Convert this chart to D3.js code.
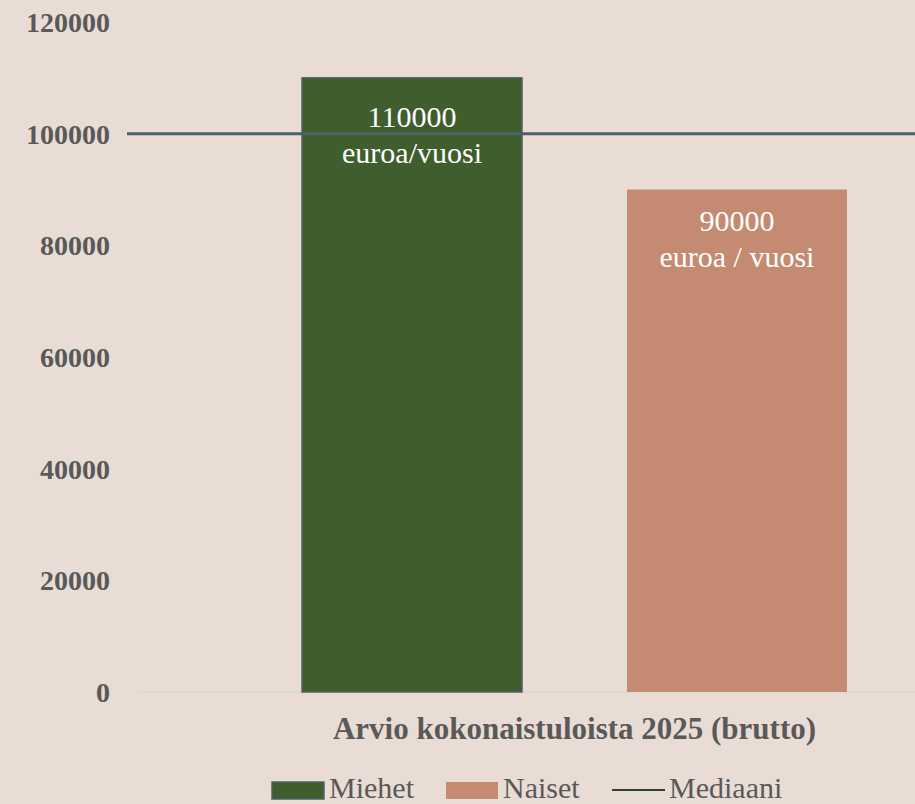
<!DOCTYPE html>
<head>
    <meta charset="utf-8">
    <style>
      body {
          margin: 0;
          background: #e8dcd4;
          font-family: 'Liberation Serif', 'Times New Roman', serif;
      }
      svg { display: block; }
      .tick text { fill: #595959; font-weight: bold; font-size: 28px; font-family: 'Liberation Serif', serif; }
      .lbl { fill: #ffffff; font-size: 30px; }
      .title { fill: #595959; font-weight: bold; font-size: 31px; }
      .legend text { fill: #595959; font-size: 30px; }
  </style>
</head>
<body>
<svg id="chart" width="915" height="804"></svg>
<script src="https://cdn.jsdelivr.net/npm/d3@7"></script>
<script>
  var categories = ["Arvio kokonaistuloista 2025 (brutto)"];
  var series = ["Miehet", "Naiset"];
  var values = [110000, 90000];
  var labels = [["110000", "euroa/vuosi"], ["90000", "euroa / vuosi"]];
  var median = 100000;
  var yTicks = [0, 20000, 40000, 60000, 80000, 100000, 120000];

  var colors = { Miehet: "#405e2d", Naiset: "#c58b72" };

  var svg = d3.select("#chart");
  var mLeft = 138, mRight = 1011, mTop = 22, mBottom = 692;

  var y = d3.scaleLinear().domain([0, 120000]).range([mBottom, mTop]);
  var x0 = d3.scaleBand().domain(categories).range([mLeft, mRight]).paddingInner(0).paddingOuter(0.301);
  var x1 = d3.scaleBand().domain(series).range([0, x0.bandwidth()]).paddingInner(0.323).paddingOuter(0);

  // y axis labels only
  var yAxis = svg.append("g")
      .attr("transform", "translate(" + (mLeft - 28) + ",0)")
      .call(d3.axisLeft(y).tickValues(yTicks).tickSize(0).tickPadding(0).tickFormat(d3.format("d")));
  yAxis.select(".domain").remove();
  yAxis.selectAll("text").attr("dy", "0.34em");

  // baseline
  svg.append("line")
      .attr("x1", mLeft).attr("x2", 915)
      .attr("y1", y(0)).attr("y2", y(0))
      .attr("stroke", "#d9d9d9").attr("stroke-width", 1.5);

  var g = svg.append("g").attr("transform", "translate(" + x0(categories[0]) + ",0)");

  g.selectAll("rect")
    .data(series)
    .join("rect")
      .attr("x", d => x1(d))
      .attr("y", (d, i) => y(values[i]))
      .attr("width", x1.bandwidth())
      .attr("height", (d, i) => y(0) - y(values[i]))
      .attr("fill", d => colors[d])
      .attr("stroke", (d, i) => i === 0 ? "#4f6168" : "none")
      .attr("stroke-width", 1.5);

  // median line
  svg.append("line")
      .attr("x1", mLeft - 11).attr("x2", 915)
      .attr("y1", y(median)).attr("y2", y(median))
      .attr("stroke", "#4e6067").attr("stroke-width", 3);

  // bar labels
  var labelOffset = [49, 41];
  series.forEach(function(s, i) {
    var cx = x0(categories[0]) + x1(s) + x1.bandwidth() / 2;
    var t = svg.append("text").attr("class", "lbl").attr("text-anchor", "middle");
    labels[i].forEach(function(line, j) {
      t.append("tspan")
        .attr("x", cx)
        .attr("y", y(values[i]) + labelOffset[i] + j * 36)
        .text(line);
    });
  });

  // x axis title
  svg.append("text")
      .attr("class", "title")
      .attr("text-anchor", "middle")
      .attr("x", x0(categories[0]) + x0.bandwidth() / 2)
      .attr("y", 739)
      .text(categories[0]);

  // legend
  var legend = svg.append("g").attr("class", "legend");
  var lx = [272, 446, 612];
  series.forEach(function(s, i) {
    legend.append("rect")
      .attr("x", lx[i]).attr("y", 782)
      .attr("width", 52).attr("height", 17)
      .attr("fill", colors[s])
      .attr("stroke", i === 0 ? "#4f6168" : "none")
      .attr("stroke-width", 1.5);
    legend.append("text").attr("x", lx[i] + 57).attr("y", 798).text(s);
  });
  legend.append("line")
      .attr("x1", lx[2]).attr("x2", lx[2] + 53)
      .attr("y1", 790).attr("y2", 790)
      .attr("stroke", "#2f4420").attr("stroke-width", 2);
  legend.append("text").attr("x", lx[2] + 57).attr("y", 798).text("Mediaani");
</script>
</body>
